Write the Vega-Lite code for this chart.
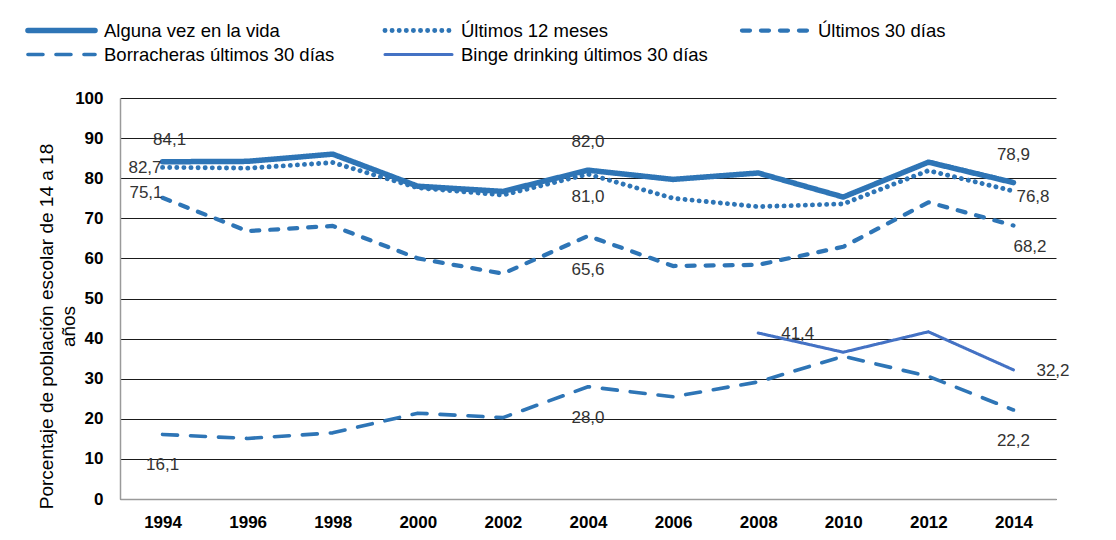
{
  "$schema": "https://vega.github.io/schema/vega-lite/v6.json",
  "autosize": {"type": "none"},
  "width": 936,
  "height": 401,
  "padding": {"left": 120, "top": 98, "right": 60, "bottom": 41},
  "background": "white",
  "config": {
    "locale": {"number": {"decimal": ",", "thousands": ".", "grouping": [3], "currency": ["", " €"]}},
    "font": "Liberation Sans",
    "view": {"stroke": null},
    "legend": {
      "orient": "none",
      "direction": "horizontal",
      "legendX": -95,
      "legendY": -76,
      "columns": 3,
      "gridAlign": "all",
      "columnPadding": 31,
      "rowPadding": 5,
      "clipHeight": 17,
      "symbolType": "stroke",
      "symbolSize": 4500,
      "labelFontSize": 18.5,
      "labelColor": "#000000",
      "labelOffset": 6,
      "labelLimit": 400,
      "title": null
    }
  },
  "data": {"values": [
    {"year": 1994, "series": "Alguna vez en la vida", "value": 84.1},
    {"year": 1996, "series": "Alguna vez en la vida", "value": 84.2},
    {"year": 1998, "series": "Alguna vez en la vida", "value": 86.0},
    {"year": 2000, "series": "Alguna vez en la vida", "value": 78.0},
    {"year": 2002, "series": "Alguna vez en la vida", "value": 76.7},
    {"year": 2004, "series": "Alguna vez en la vida", "value": 82.0},
    {"year": 2006, "series": "Alguna vez en la vida", "value": 79.7},
    {"year": 2008, "series": "Alguna vez en la vida", "value": 81.3},
    {"year": 2010, "series": "Alguna vez en la vida", "value": 75.3},
    {"year": 2012, "series": "Alguna vez en la vida", "value": 84.0},
    {"year": 2014, "series": "Alguna vez en la vida", "value": 78.9},
    {"year": 1994, "series": "Últimos 12 meses", "value": 82.7},
    {"year": 1996, "series": "Últimos 12 meses", "value": 82.5},
    {"year": 1998, "series": "Últimos 12 meses", "value": 83.9},
    {"year": 2000, "series": "Últimos 12 meses", "value": 77.6},
    {"year": 2002, "series": "Últimos 12 meses", "value": 75.8},
    {"year": 2004, "series": "Últimos 12 meses", "value": 81.0},
    {"year": 2006, "series": "Últimos 12 meses", "value": 75.0},
    {"year": 2008, "series": "Últimos 12 meses", "value": 72.9},
    {"year": 2010, "series": "Últimos 12 meses", "value": 73.6},
    {"year": 2012, "series": "Últimos 12 meses", "value": 81.9},
    {"year": 2014, "series": "Últimos 12 meses", "value": 76.8},
    {"year": 1994, "series": "Últimos 30 días", "value": 75.1},
    {"year": 1996, "series": "Últimos 30 días", "value": 66.8},
    {"year": 1998, "series": "Últimos 30 días", "value": 68.1},
    {"year": 2000, "series": "Últimos 30 días", "value": 60.0},
    {"year": 2002, "series": "Últimos 30 días", "value": 56.2},
    {"year": 2004, "series": "Últimos 30 días", "value": 65.6},
    {"year": 2006, "series": "Últimos 30 días", "value": 58.1},
    {"year": 2008, "series": "Últimos 30 días", "value": 58.4},
    {"year": 2010, "series": "Últimos 30 días", "value": 62.9},
    {"year": 2012, "series": "Últimos 30 días", "value": 74.0},
    {"year": 2014, "series": "Últimos 30 días", "value": 68.2},
    {"year": 1994, "series": "Borracheras últimos 30 días", "value": 16.1},
    {"year": 1996, "series": "Borracheras últimos 30 días", "value": 15.1},
    {"year": 1998, "series": "Borracheras últimos 30 días", "value": 16.5},
    {"year": 2000, "series": "Borracheras últimos 30 días", "value": 21.4},
    {"year": 2002, "series": "Borracheras últimos 30 días", "value": 20.3},
    {"year": 2004, "series": "Borracheras últimos 30 días", "value": 28.0},
    {"year": 2006, "series": "Borracheras últimos 30 días", "value": 25.5},
    {"year": 2008, "series": "Borracheras últimos 30 días", "value": 29.2},
    {"year": 2010, "series": "Borracheras últimos 30 días", "value": 35.6},
    {"year": 2012, "series": "Borracheras últimos 30 días", "value": 30.6},
    {"year": 2014, "series": "Borracheras últimos 30 días", "value": 22.2},
    {"year": 2008, "series": "Binge drinking últimos 30 días", "value": 41.4},
    {"year": 2010, "series": "Binge drinking últimos 30 días", "value": 36.6},
    {"year": 2012, "series": "Binge drinking últimos 30 días", "value": 41.7},
    {"year": 2014, "series": "Binge drinking últimos 30 días", "value": 32.2}
  ]},
  "encoding": {
    "x": {
      "field": "year",
      "type": "ordinal",
      "scale": {"type": "point", "padding": 0.5},
      "axis": {
        "title": null,
        "labelAngle": 0,
        "ticks": false,
        "grid": false,
        "domainColor": "#9a9a9a",
        "domainWidth": 1.5,
        "labelFontSize": 17,
        "labelFontWeight": "bold",
        "labelColor": "#000000",
        "labelPadding": 15
      }
    },
    "y": {
      "field": "value",
      "type": "quantitative",
      "scale": {"domain": [0, 100], "nice": false},
      "axis": {
        "values": [0, 10, 20, 30, 40, 50, 60, 70, 80, 90, 100],
        "title": ["Porcentaje de población escolar de 14 a 18", "años"],
        "titleFontSize": 19,
        "titleFontWeight": "normal",
        "titleColor": "#000000",
        "titleLineHeight": 22,
        "titlePadding": -4,
        "titleY": 228,
        "ticks": false,
        "grid": true,
        "gridColor": "#1a1a1a",
        "gridWidth": 1,
        "domainColor": "#9a9a9a",
        "domainWidth": 1.5,
        "labelFontSize": 17,
        "labelFontWeight": "bold",
        "labelColor": "#000000",
        "labelPadding": 17
      }
    }
  },
  "layer": [
    {
      "mark": {"type": "line", "strokeCap": "round", "strokeJoin": "round"},
      "encoding": {
        "color": {
          "field": "series",
          "type": "nominal",
          "scale": {
            "domain": ["Alguna vez en la vida", "Últimos 12 meses", "Últimos 30 días", "Borracheras últimos 30 días", "Binge drinking últimos 30 días"],
            "range": ["#2E75B6", "#2E75B6", "#2E75B6", "#2E75B6", "#4472C4"]
          },
          "legend": {
            "title": null,
            "encode": {
              "symbols": {
                "update": {
                  "strokeCap": {"value": "round"},
                  "strokeDash": {"signal": "datum.value === 'Últimos 30 días' ? [6, 8.1] : datum.value === 'Borracheras últimos 30 días' ? [14, 10.5] : datum.value === 'Últimos 12 meses' ? [0.1, 8.6] : [1, 0]"}
                }
              }
            }
          }
        },
        "strokeDash": {
          "field": "series",
          "type": "nominal",
          "scale": {
            "domain": ["Alguna vez en la vida", "Últimos 12 meses", "Últimos 30 días", "Borracheras últimos 30 días", "Binge drinking últimos 30 días"],
            "range": [[1, 0], [0.1, 7], [8, 11], [15, 13], [1, 0]]
          },
          "legend": {"title": null}
        },
        "strokeWidth": {
          "field": "series",
          "type": "nominal",
          "scale": {
            "domain": ["Alguna vez en la vida", "Últimos 12 meses", "Últimos 30 días", "Borracheras últimos 30 días", "Binge drinking últimos 30 días"],
            "range": [5.5, 3, 4.5, 4, 1.5]
          },
          "legend": {"title": null}
        }
      }
    },
    {
      "transform": [{"filter": "datum.series == 'Alguna vez en la vida' && datum.year == 1994"}],
      "mark": {"type": "text", "fontSize": 17, "color": "#333333", "align": "center", "baseline": "middle", "dx": 7, "dy": -22},
      "encoding": {"text": {"field": "value", "type": "quantitative", "format": ".1f"}}
    },
    {
      "transform": [{"filter": "datum.series == 'Alguna vez en la vida' && (datum.year == 2004 || datum.year == 2014)"}],
      "mark": {"type": "text", "fontSize": 17, "color": "#333333", "align": "center", "baseline": "middle", "dy": -28},
      "encoding": {"text": {"field": "value", "type": "quantitative", "format": ".1f"}}
    },
    {
      "transform": [{"filter": "datum.series == 'Borracheras últimos 30 días' && (datum.year == 1994 || datum.year == 2004 || datum.year == 2014)"}],
      "mark": {"type": "text", "fontSize": 17, "color": "#333333", "align": "center", "baseline": "middle", "dy": 31},
      "encoding": {"text": {"field": "value", "type": "quantitative", "format": ".1f"}}
    },
    {
      "transform": [{"filter": "datum.series == 'Últimos 30 días' && datum.year == 2004"}],
      "mark": {"type": "text", "fontSize": 17, "color": "#333333", "align": "center", "baseline": "middle", "dy": 34},
      "encoding": {"text": {"field": "value", "type": "quantitative", "format": ".1f"}}
    },
    {
      "transform": [{"filter": "datum.series == 'Últimos 12 meses' && datum.year == 2004"}],
      "mark": {"type": "text", "fontSize": 17, "color": "#333333", "align": "center", "baseline": "middle", "dy": 23},
      "encoding": {"text": {"field": "value", "type": "quantitative", "format": ".1f"}}
    },
    {
      "transform": [{"filter": "datum.series == 'Últimos 12 meses' && datum.year == 1994"}],
      "mark": {"type": "text", "fontSize": 17, "color": "#333333", "align": "right", "baseline": "middle", "dx": -1, "dy": 1},
      "encoding": {"text": {"field": "value", "type": "quantitative", "format": ".1f"}}
    },
    {
      "transform": [{"filter": "datum.series == 'Últimos 30 días' && datum.year == 1994"}],
      "mark": {"type": "text", "fontSize": 17, "color": "#333333", "align": "right", "baseline": "middle", "dx": 0, "dy": -5},
      "encoding": {"text": {"field": "value", "type": "quantitative", "format": ".1f"}}
    },
    {
      "transform": [{"filter": "datum.series == 'Binge drinking últimos 30 días' && (datum.year == 2008 || datum.year == 2014)"}],
      "mark": {"type": "text", "fontSize": 17, "color": "#333333", "align": "left", "baseline": "middle", "dx": 23, "dy": 1},
      "encoding": {"text": {"field": "value", "type": "quantitative", "format": ".1f"}}
    },
    {
      "transform": [{"filter": "datum.series == 'Últimos 12 meses' && datum.year == 2014"}],
      "mark": {"type": "text", "fontSize": 17, "color": "#333333", "align": "left", "baseline": "middle", "dx": 3, "dy": 6},
      "encoding": {"text": {"field": "value", "type": "quantitative", "format": ".1f"}}
    },
    {
      "transform": [{"filter": "datum.series == 'Últimos 30 días' && datum.year == 2014"}],
      "mark": {"type": "text", "fontSize": 17, "color": "#333333", "align": "left", "baseline": "middle", "dx": 0, "dy": 21},
      "encoding": {"text": {"field": "value", "type": "quantitative", "format": ".1f"}}
    }
  ]
}
